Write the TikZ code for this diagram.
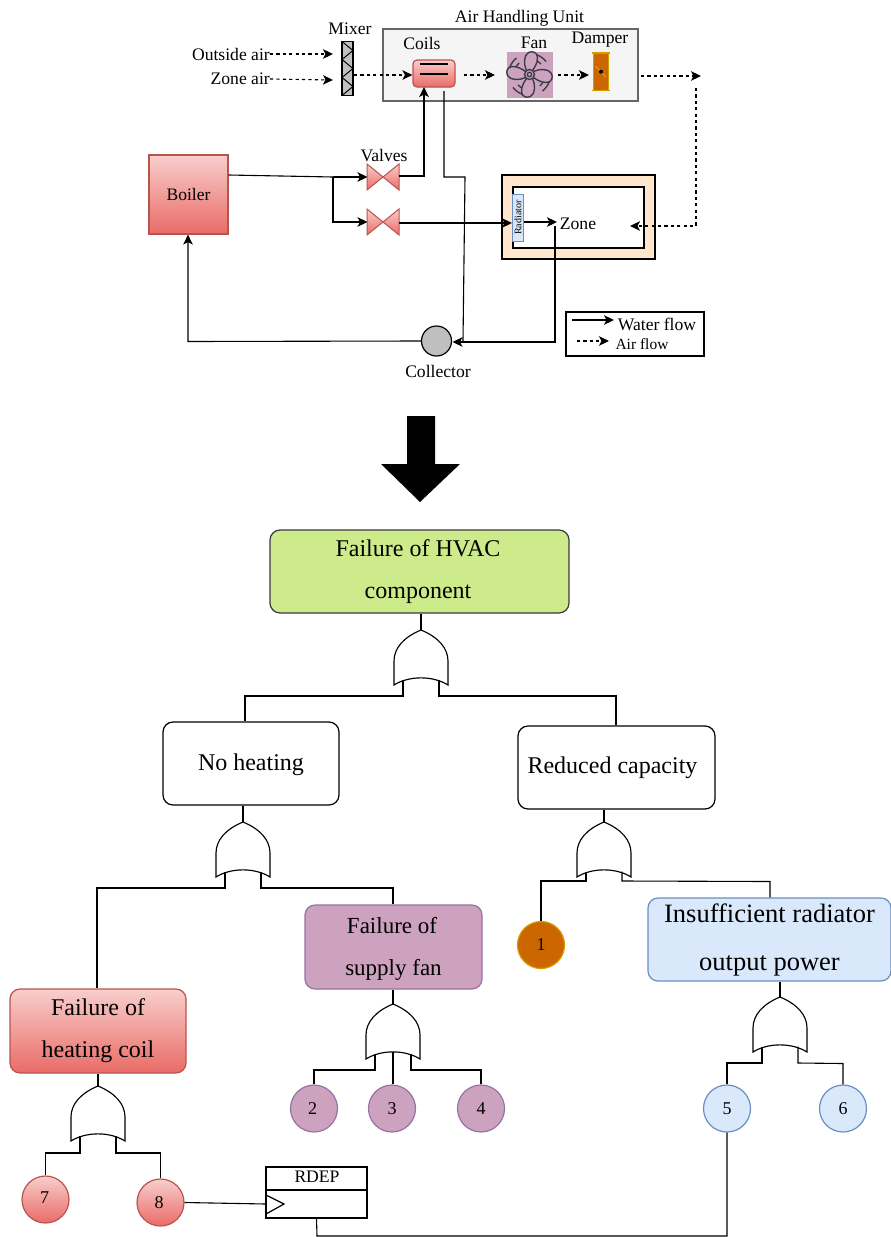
\documentclass[tikz,border=0pt]{standalone}
\usepackage{fontspec}
\setmainfont{Liberation Serif}
\usetikzlibrary{arrows.meta}
\definecolor{redA}{HTML}{F8CECC}\definecolor{redB}{HTML}{EA6B66}\definecolor{redS}{HTML}{B85450}
\definecolor{purF}{HTML}{CDA2BE}\definecolor{purS}{HTML}{9673A6}
\definecolor{bluF}{HTML}{DAE8FC}\definecolor{bluS}{HTML}{6C8EBF}
\definecolor{grnF}{HTML}{CDEB8B}\definecolor{grnS}{HTML}{36393D}
\definecolor{orgF}{HTML}{CC6600}\definecolor{orgS}{HTML}{D79B00}
\definecolor{peach}{HTML}{FFE6CC}\definecolor{ahuF}{HTML}{F5F5F5}\definecolor{ahuS}{HTML}{666666}
\definecolor{iconS}{HTML}{3D3D45}
\tikzset{
  wire/.style={draw=black,line width=1.1pt,line join=miter},
  flow/.style={wire,-{Stealth[length=10pt,width=9.5pt,inset=2.5pt]}},
  air/.style={flow,dash pattern=on 3.2pt off 3.2pt},
  box/.style={draw=black,line width=1.2pt,rounded corners=10pt,align=center,inner sep=0pt,font=\fontsize{24}{42}\selectfont},
  redshade/.style={draw=redS,top color=redA,bottom color=redB},
  num/.style={circle,minimum size=47pt,inner sep=0pt,line width=1.2pt,font=\fontsize{18}{20}\selectfont},
  lab/.style={inner sep=0pt,font=\fontsize{17.6}{20}\selectfont},
  gateline/.style={draw=black,line width=1.15pt,fill=white,line join=miter},
  valvepart/.style={draw=redS,line width=1pt,top color=redA,bottom color=redB},
}
\newcommand\orgate[2]{%
  \begin{scope}[shift={(#2)}]
    \coordinate (#1-top) at (0,0);
    \coordinate (#1-l) at (-18,49.5);
    \coordinate (#1-m) at (0,47.5);
    \coordinate (#1-r) at (18,49.5);
    \draw[gateline] (0,0) .. controls (-17,7) and (-27,18) .. (-27,31) -- (-27,55)
      .. controls (-12,45.5) and (12,45.5) .. (27,55) -- (27,31)
      .. controls (27,18) and (17,7) .. (0,0) -- cycle;
  \end{scope}}
\begin{document}
\begin{tikzpicture}[x=1pt,y=-1pt]
\useasboundingbox (0,0) rectangle (891,1237);
% ---------- plant ----------
\node[draw=ahuS,fill=ahuF,line width=1.2pt,minimum width=255pt,minimum height=72pt,inner sep=0pt] (ahu) at (510.5,65) {};
\node[lab] (ahul) at (519.5,18.5) {Air Handling Unit};
\node[lab] (mixl) at (350,29) {Mixer};
\node[lab] (coill) at (422,43) {Coils};
\node[lab] (fanl) at (534,43) {Fan};
\node[lab] (dampl) at (600,40) {Damper};
\node[lab,anchor=east] (oa) at (270,54) {Outside air};
\node[lab,anchor=east] (za) at (270,79) {Zone air};
% mixer
\node[draw=black,fill=lightgray,line width=1.2pt,minimum width=11pt,minimum height=54pt,inner sep=0pt] (mix) at (347.5,68.5) {};
\draw[line width=1pt] (342,41.5) -- (353,50.5) -- (342,59.5) -- (353,68.5) -- (342,77.5) -- (353,86.5) -- (342,95.5);
\coordinate (oaend) at (333,54);
\coordinate (zaend) at (333,80);
\draw[air] (oa.east) -- (oaend);
\draw[air] (za.east) -- (zaend);
% coil
\node[redshade,line width=1.2pt,rounded corners=4pt,minimum width=42pt,minimum height=27pt,inner sep=0pt] (coil) at (434,73.5) {};
\draw[line width=1.2pt] (420,64) -- (448,64) (420,74) -- (448,74);
% fan
\node[fill=purF,minimum size=46pt,inner sep=0pt] (fan) at (530,75) {};
\begin{scope}[shift={(529.5,74.5)},draw=iconS,line width=1.4pt]
  \foreach \a in {0,90,180,270}{
    \draw[rotate=\a] (20:21) arc (20:52:21);
    \draw[rotate=\a] (22:15.5) arc (22:48:15.5);
  }
  \foreach \a in {0,90,180,270}{
    \draw[rotate=\a,fill=purF] (-3,-4) .. controls (-6,-10) and (-6,-19) .. (-1,-22) .. controls (3,-24) and (8,-22) .. (8,-17) .. controls (8,-11) and (5,-7) .. (3,-4);
  }
  \draw[fill=purF] (0,0) circle (5);
  \draw (0,0) circle (2.2);
\end{scope}
% damper
\node[draw=orgS,fill=orgF,line width=1pt,minimum width=15pt,minimum height=38pt,inner sep=0pt] (damp) at (601,71.7) {};
\draw[orgS,line width=1.6pt] (592,53) -- (610,53) (592,90.5) -- (610,90.5);
\draw[orgS,line width=1.2pt] (595.5,66) -- (606,77);
\fill[black] (damp.center) circle (2);
% air arrows
\coordinate (mixout) at (354,75);
\coordinate (cofout) at (464,75);
\coordinate (fanin) at (495,75);
\coordinate (fanout) at (558,75);
\coordinate (damin) at (589,75);
\coordinate (damout) at (641,76);
\coordinate (airend) at (701,76);
\coordinate (airdown) at (696,88);
\draw[air] (mixout) -- (mixout -| coil.west);
\draw[air] (cofout) -- (fanin);
\draw[air] (fanout) -- (damin);
\draw[air] (damout) -- (airend);
% boiler
\node[redshade,line width=1.2pt,minimum width=79pt,minimum height=79pt,inner sep=0pt,font=\fontsize{17.5}{20}\selectfont] (boiler) at (188.5,194.5) {Boiler};
% valves
\node[lab] (vall) at (384,156) {Valves};
\coordinate (v1) at (383,177);
\coordinate (v2) at (383,222);
\foreach \v in {v1,v2}{
  \draw[valvepart] ([shift={(-16,-13)}]\v) -- (\v) -- ([shift={(-16,13)}]\v) -- cycle;
  \draw[valvepart] ([shift={(16,-13)}]\v) -- (\v) -- ([shift={(16,13)}]\v) -- cycle;
}
% zone
\node[draw=black,fill=peach,line width=1.2pt,minimum width=153pt,minimum height=84pt,inner sep=0pt] (zoneo) at (578.5,217) {};
\node[draw=black,fill=white,line width=1.2pt,minimum width=131pt,minimum height=61pt,inner sep=0pt] (zonei) at (578.5,217.5) {};
\node[draw=bluS,fill=bluF,line width=1pt,minimum width=10.5pt,minimum height=47pt,inner sep=0pt] (rad) at (518,217.5) {};
\node[rotate=90,inner sep=0pt,font=\fontsize{10}{12}\selectfont] (radl) at (518,217.5) {Radiator};
\node[lab] (zone) at (578,224) {Zone};
% collector
\node[circle,draw=black,fill=lightgray,line width=1.2pt,minimum size=30pt,inner sep=0pt] (coll) at (436.5,341) {};
\node[lab] (colll) at (438,371) {Collector};
% water pipes
\coordinate (bo) at (boiler.east |- 0,175);
\coordinate (j1) at (333,177);
\coordinate (v1i) at (367.5,177);
\coordinate (v1o) at (399,176);
\coordinate (v2i) at (367.5,222);
\coordinate (v2o) at (399,223);
\coordinate (c1) at (424,176);
\coordinate (coilin) at (424,87);
\coordinate (coilout) at (444,91);
\coordinate (c2) at (444,177);
\coordinate (c3) at (465,177);
\coordinate (c4) at (463,341);
\coordinate (radin) at (512,223);
\coordinate (radout) at (523.5,222);
\coordinate (radend) at (557,222);
\coordinate (zd) at (555,226);
\coordinate (zb) at (555,342);
\coordinate (collin) at (452.5,342);
\draw[wire] (bo) -- (j1);
\draw[flow] (j1) -- (v1i);
\draw[flow] (j1) -- (333,222) -- (v2i);
\draw[flow] (v1o) -- (c1) -- (coilin);
\draw[wire] (coilout) -- (c2) -- (c3) -- (c4);
\draw[flow] (v2o) -- (radin);
\draw[flow] (radout) -- (radend);
\draw[flow] (zd) -- (zb) -- (collin);
\draw[flow] (coll.west) -- (188,341.5) -- (boiler.south -| 188,0);
\draw[air] (airdown) -- (696,226) -- (630,226);
% legend
\node[draw=black,fill=white,line width=1.2pt,minimum width=138pt,minimum height=44pt,inner sep=0pt] (leg) at (635,334) {};
\coordinate (w1) at (572,320);\coordinate (w2) at (614,320);
\coordinate (a1) at (577,341);\coordinate (a2) at (609,341);
\draw[flow] (w1) -- (w2);
\draw[air] (a1) -- (a2);
\node[lab] (wl) at (657,324) {Water flow};
\node[lab,font=\fontsize{15.5}{18}\selectfont] (al) at (642,344) {Air flow};
% big arrow
\fill[black] (407,416) -- (435,416) -- (435,464) -- (460,464) -- (420,502) -- (381,464) -- (407,464) -- cycle;
% ---------- fault tree ----------
\node[box,draw=grnS,fill=grnF,minimum width=299pt,minimum height=83pt] (hvac) at (419.5,571.5) {Failure of HVAC\hspace*{3pt}\\component\hspace*{3pt}};
\node[box,minimum width=176pt,minimum height=83pt] (nh) at (251,763.5) {\rule{0pt}{20pt}No heating};
\node[box,minimum width=197pt,minimum height=83pt] (rc) at (616.5,767.5) {Reduced capacity\hspace*{8pt}};
\node[box,draw=purS,fill=purF,minimum width=177pt,minimum height=84pt,font=\fontsize{23}{42}\selectfont] (sf) at (393.5,947) {\rule{0pt}{20pt}Failure of\hspace*{3pt}\\supply fan};
\node[box,redshade,minimum width=176pt,minimum height=84pt] (hc) at (98,1031) {Failure of\\heating coil};
\node[box,draw=bluS,fill=bluF,minimum width=243pt,minimum height=83pt,font=\fontsize{26.5}{48}\selectfont] (ir) at (769.5,939.5) {Insufficient radiator\\output power};
\orgate{ga}{421,630}
\orgate{gb}{243,822}
\orgate{gc}{604,822}
\orgate{gd}{393,1004}
\orgate{ge}{780,997}
\orgate{gf}{98,1086}
\node[num,draw=orgS,fill=orgF] (n1) at (541,945) {1};
\node[num,draw=purS,fill=purF] (n2) at (314,1108.5) {\hspace*{-3pt}2};
\node[num,draw=purS,fill=purF] (n3) at (392,1108.5) {3};
\node[num,draw=purS,fill=purF] (n4) at (481,1108.5) {4};
\node[num,draw=bluS,fill=bluF] (n5) at (727,1108.5) {5};
\node[num,draw=bluS,fill=bluF] (n6) at (843,1108.5) {6};
\node[num,redshade] (n7) at (45.5,1199.5) {\hspace*{-2pt}7\rule[-4pt]{0pt}{4pt}};
\node[num,redshade] (n8) at (160.5,1202.5) {\hspace*{-3pt}8};
% gate wiring
\draw[wire] (hvac.south -| ga-top) -- (ga-top);
\draw[wire] (nh.south -| gb-top) -- (gb-top);
\draw[wire] (rc.south -| gc-top) -- (gc-top);
\draw[wire] (sf.south -| gd-top) -- (gd-top);
\draw[wire] (ir.south -| ge-top) -- (ge-top);
\draw[wire] (hc.south -| gf-top) -- (gf-top);
\draw[wire] (ga-l) -- (403,696) -- (245,696) -- (nh.north -| 245,0);
\draw[wire] (ga-r) -- (439,696) -- (616,696) -- (rc.north -| 616,0);
\draw[wire] (gb-l) -- (225,888) -- (97,888) -- (hc.north -| 97,0);
\draw[wire] (gb-r) -- (261,888) -- (393,888) -- (sf.north -| 393,0);
\draw[wire] (gc-l) -- (586,881) -- (541,881) -- (n1.north);
\draw[wire] (gc-r) -- (622,881) -- (770,881.5) -- (ir.north -| 770,0);
\draw[wire] (gd-l) -- (375,1070) -- (314,1070) -- (n2.north);
\draw[wire] (gd-m) -- (n3.north -| gd-m);
\draw[wire] (gd-r) -- (411,1070) -- (481,1070) -- (n4.north);
\draw[wire] (ge-l) -- (762,1063) -- (727,1063) -- (n5.north);
\draw[wire] (ge-r) -- (798,1063) -- (843,1063.5) -- (n6.north);
\draw[wire] (gf-l) -- (80,1153) -- (45.5,1153) -- (n7.north);
\draw[wire] (gf-r) -- (116,1153) -- (160.5,1153) -- (n8.north);
% RDEP
\node[draw=black,fill=white,line width=1.2pt,minimum width=101pt,minimum height=51pt,inner sep=0pt] (rdep) at (316.5,1192.5) {};
\draw[line width=1.2pt] (266,1190) -- (367,1190);
\node[lab] (rdepl) at (317,1177) {RDEP};
\coordinate (rin) at (266,1204);
\draw[line width=1.2pt] (266,1195) -- (284,1204) -- (266,1214);
\draw[wire] (n8.east) -- (rin);
\draw[wire] (rdep.south) -- (317,1236) -- (727,1236) -- (n5.south);
\end{tikzpicture}
\end{document}
